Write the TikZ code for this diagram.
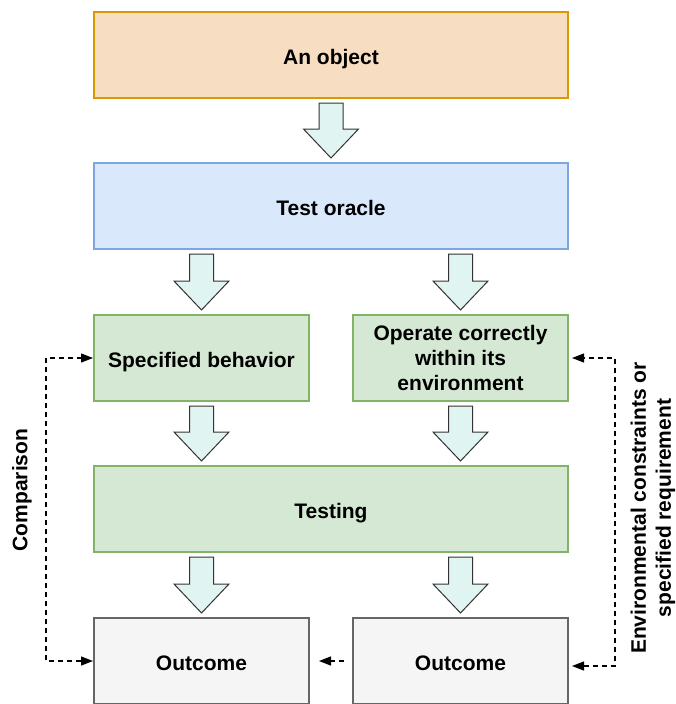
\documentclass[tikz,border=0pt]{standalone}
\usepackage{fontspec}
\setmainfont{Liberation Sans}
\usetikzlibrary{calc,arrows.meta}

\definecolor{objfill}{HTML}{F7DDC2}
\definecolor{objline}{HTML}{D79B00}
\definecolor{oraclefill}{HTML}{DAE8FC}
\definecolor{oracleline}{HTML}{7EA6E0}
\definecolor{greenfill}{HTML}{D5E8D4}
\definecolor{greenline}{HTML}{82B366}
\definecolor{grayfill}{HTML}{F5F5F5}
\definecolor{grayline}{HTML}{666666}
\definecolor{arrfill}{HTML}{E0F4F1}

\tikzset{
  box/.style={draw,line width=2pt,minimum width=474pt,minimum height=86pt,
    inner sep=0pt,align=center,text height=19pt,text depth=0pt,
    font=\bfseries\fontsize{21}{25}\selectfont},
  halfbox/.style={box,minimum width=215pt},
  lbl/.style={rotate=90,align=center,font=\bfseries\fontsize{21}{25}\selectfont},
  blockarr/.style={draw=black!80,fill=arrfill,line width=1pt,line join=miter},
  dashline/.style={line width=1.3pt,dash pattern=on 5pt off 4pt,
    >={Triangle[length=12pt,width=9pt]}}
}

% block arrow from bottom of one box to top of the next
\newcommand{\blockarrow}[2]{%
  \draw[blockarr] let \p1=(#1), \p2=(#2) in
    (\x1-12,\y1-4) -- (\x1+12,\y1-4) -- (\x1+12,\y2+33) -- (\x1+27.5,\y2+33)
    -- (\x1,\y2+4) -- (\x1-27.5,\y2+33) -- (\x1-12,\y2+33) -- cycle;}

\begin{document}
\begin{tikzpicture}[x=1pt,y=-1pt]
  \useasboundingbox (0,0) rectangle (676,704);
  \clip (0,0) rectangle (676,704);

  \node[box,fill=objfill,draw=objline] (obj) at (331,55) {An object};
  \node[box,fill=oraclefill,draw=oracleline] (oracle) at (331,206) {Test oracle};
  \node[halfbox,fill=greenfill,draw=greenline] (spec) at (201.5,358) {Specified behavior};
  \node[halfbox,fill=greenfill,draw=greenline,text height=,text depth=] (env) at (460.5,358)
    {Operate correctly\\within its\\environment};
  \node[box,fill=greenfill,draw=greenline] (testing) at (331,509) {Testing};
  \node[halfbox,fill=grayfill,draw=grayline] (out1) at (201.5,661) {Outcome};
  \node[halfbox,fill=grayfill,draw=grayline] (out2) at (460.5,661) {Outcome};

  \blockarrow{obj.south}{oracle.north}
  \blockarrow{spec.north |- oracle.south}{spec.north}
  \blockarrow{env.north |- oracle.south}{env.north}
  \blockarrow{spec.south}{spec.south |- testing.north}
  \blockarrow{env.south}{env.south |- testing.north}
  \blockarrow{out1.north |- testing.south}{out1.north}
  \blockarrow{out2.north |- testing.south}{out2.north}

  % feedback lines
  \draw[dashline,<->] (out1.west) -- ++(-47,0) |- (spec.west);
  \draw[dashline,<->,shorten <=3pt,shorten >=3pt] ($(out2.east)+(0,5)$) -- ++(46,0) |- (env.east);
  \draw[dashline,->,shorten >=9pt,shorten <=8pt] (out2.west) -- (out1.east);

  \node[lbl] (cmp) at (22,490) {Comparison};
  \node[lbl] (envlbl) at (653,508) {Environmental constraints or\\specified requirement};
\end{tikzpicture}
\end{document}
